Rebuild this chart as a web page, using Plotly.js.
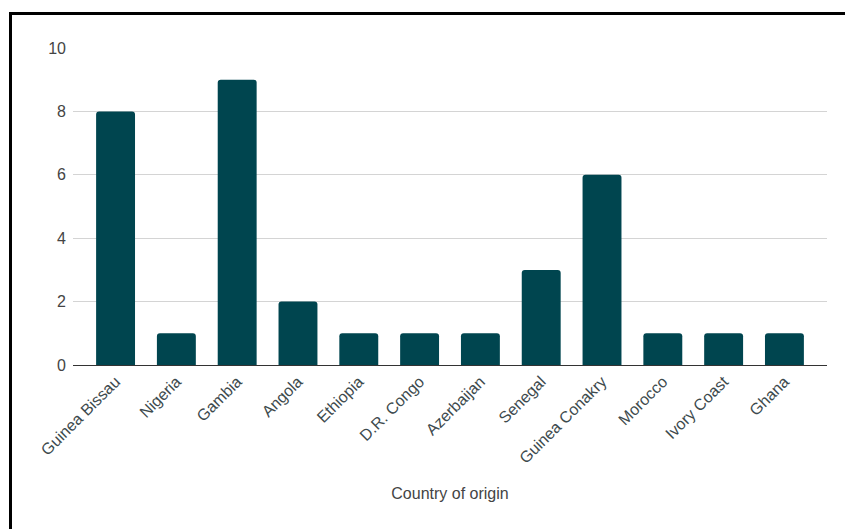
<!DOCTYPE html>
<html>
<head>
<meta charset="utf-8">
<script src="https://cdn.plot.ly/plotly-3.0.1.min.js"></script>
<style>
html,body{margin:0;padding:0;background:#fff;overflow:hidden;}
#wrap{position:relative;width:845px;height:529px;}
#chart{position:absolute;left:0;top:0;width:845px;height:529px;}
#frame{position:absolute;left:9px;top:12px;width:900px;height:600px;border-left:3px solid #000;border-top:3px solid #000;pointer-events:none;}
</style>
</head>
<body>
<div id="wrap"><div id="chart"></div><div id="frame"></div></div>
<script>
const countries = ["Guinea Bissau","Nigeria","Gambia","Angola","Ethiopia","D.R. Congo","Azerbaijan","Senegal","Guinea Conakry","Morocco","Ivory Coast","Ghana"];
const counts = [8,1,9,2,1,1,1,3,6,1,1,1];
const yTicks = [0,2,4,6,8,10];

Plotly.newPlot('chart', [{
  type: 'bar',
  x: countries,
  y: counts,
  marker: {color: '#00454f', cornerradius: 3},
  hoverinfo: 'x+y'
}], {
  width: 845, height: 529,
  margin: {l: 73, r: 18, t: 48, b: 164},
  paper_bgcolor: '#fff', plot_bgcolor: '#fff',
  bargap: 0.36,
  font: {family: 'Liberation Sans, Arial, sans-serif', color: '#444', size: 16},
  showlegend: false,
  xaxis: {
    range: [-0.7, 11.7],
    tickangle: -45,
    tickfont: {size: 16, color: '#3d4a4d'},
    showgrid: false,
    showline: true, linecolor: '#333', linewidth: 1,
    ticks: '',
    automargin: false,
    title: {text: 'Country of origin', font: {size: 16, color: '#444'}, standoff: 22}
  },
  yaxis: {
    range: [0, 10],
    tickvals: yTicks,
    tickfont: {size: 16, color: '#444'},
    gridcolor: '#d4d4d4', gridwidth: 1,
    zeroline: false,
    showline: false,
    ticks: '', ticklabelstandoff: 6,
    automargin: false
  }
}, {staticPlot: true});
</script>
</body>
</html>
